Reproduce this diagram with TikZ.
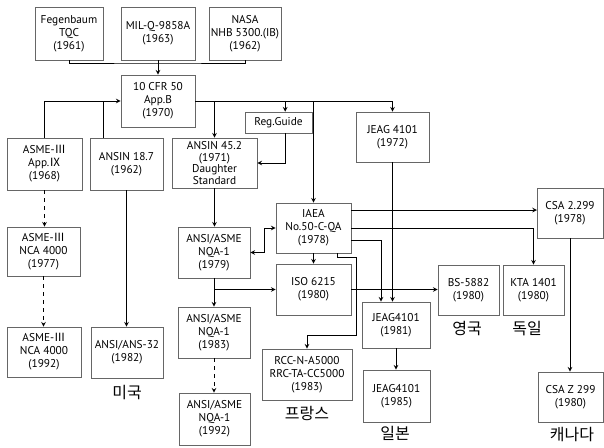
\documentclass[tikz,border=0pt]{standalone}
\usepackage{fontspec}
\setmainfont{PT Sans}
\newfontfamily\kor{Noto Sans CJK KR}
\usetikzlibrary{arrows}

\begin{document}
\begin{tikzpicture}[x=0.75pt, y=-0.75pt, >=stealth, line width=0.6pt,
    stdbox/.style={draw=black!60, line width=0.5pt, align=center, inner sep=0pt,
        font=\fontsize{8.5}{9.8}\selectfont},
    wh/.style 2 args={minimum width=#1*0.75pt, minimum height=#2*0.75pt},
    nation/.style={font=\kor\fontsize{12}{13}\selectfont}]
    \useasboundingbox (0,0) rectangle (604,447);

    % 초기 품질 기준
    \node[stdbox, wh={68}{53}] (feg) at (69,33.5) {Fegenbaum\\TQC\\(1961)};
    \node[stdbox, wh={74}{53}] (mil) at (158,33.5) {MIL-Q-9858A\\(1963)};
    \node[stdbox, wh={72}{53}] (nasa) at (245,33.5) {NASA\\NHB 5300.(IB)\\(1962)};
    \node[stdbox, wh={74}{52}] (cfr) at (158,101) {10 CFR 50\\App.B\\(1970)};

    % 미국
    \node[stdbox, wh={75}{52}] (asme68) at (44.5,164) {ASME-{\kor Ⅲ}\\App.{\kor Ⅸ}\\(1968)};
    \node[stdbox, wh={73}{52}] (ansin187) at (126.5,164) {ANSIN 18.7\\(1962)};
    \node[stdbox, wh={85}{50}, font=\fontsize{8.5}{8.6}\selectfont] (ansin452) at (214.5,163) {ANSIN 45.2\\(1971)\\Daughter\\Standard};
    \node[stdbox, wh={67}{21}] (regguide) at (278.5,122.5) {Reg.Guide};
    \node[stdbox, wh={73}{49}] (asme77) at (43.5,251.5) {ASME-{\kor Ⅲ}\\NCA 4000\\(1977)};
    \node[stdbox, wh={74}{50}] (asme92) at (44,352) {ASME-{\kor Ⅲ}\\NCA 4000\\(1992)};
    \node[stdbox, wh={72}{51}] (ans32) at (127,352.5) {ANSI/ANS-32\\(1982)};
    \node[stdbox, wh={72}{51}] (nqa79) at (214,252.5) {ANSI/ASME\\NQA-1\\(1979)};
    \node[stdbox, wh={72}{51}] (nqa83) at (214,332.5) {ANSI/ASME\\NQA-1\\(1983)};
    \node[stdbox, wh={71}{52}] (nqa92) at (214.5,419) {ANSI/ASME\\NQA-1\\(1992)};

    % 국제 기준, 각국
    \node[stdbox, wh={75}{50}] (iaea) at (313.5,228) {IAEA\\No.50-C-QA\\(1978)};
    \node[stdbox, wh={75}{51}] (iso) at (313.5,289.5) {ISO 6215\\(1980)};
    \node[stdbox, wh={90}{51}] (rcc) at (307,374.5) {RCC-N-A5000\\RRC-TA-CC5000\\(1983)};
    \node[stdbox, wh={73}{50}] (jeag72) at (392.5,137) {JEAG 4101\\(1972)};
    \node[stdbox, wh={68}{46}] (jeag81) at (396,325) {JEAG4101\\(1981)};
    \node[stdbox, wh={67}{52}] (jeag85) at (396.5,396) {JEAG4101\\(1985)};
    \node[stdbox, wh={61}{50}] (bs) at (468.5,290) {BS-5882\\(1980)};
    \node[stdbox, wh={61}{50}] (kta) at (533.5,290) {KTA 1401\\(1980)};
    \node[stdbox, wh={66}{50}] (csa78) at (570,213) {CSA 2.299\\(1978)};
    \node[stdbox, wh={65}{50}] (csaz) at (570.5,397) {CSA Z 299\\(1980)};

    % 나라 이름
    \node[nation] (usa) at (127,393) {미국};
    \node[nation] (fra) at (307,413) {프랑스};
    \node[nation] (jpn) at (395,433) {일본};
    \node[nation] (uk) at (467,329) {영국};
    \node[nation] (ger) at (527,329) {독일};
    \node[nation] (can) at (572,435) {캐나다};

    % 위 세 기준 -> 10 CFR 50
    \coordinate (topjoin) at (158,63);
    \draw (feg.south) |- (topjoin) -| (nasa.south);
    \draw[->] (mil.south) -- (cfr.north);

    % 왼쪽 두 기준 -> 10 CFR 50
    \coordinate (ansjoin) at (103,101);
    \draw[->] (asme68.north) |- (cfr.west);
    \draw (ansin187.north -| ansjoin) -- (ansjoin);

    % 10 CFR 50 -> 오른쪽
    \coordinate (rgtop) at ([xshift=5pt]regguide.north);
    \coordinate (rgbot) at ([xshift=5pt]regguide.south);
    \draw[->] (cfr.east) -| (jeag72.north);
    \draw[->] (cfr.east -| ansin452.north) -- (ansin452.north);
    \draw[->] (cfr.east -| rgtop) -- (rgtop);
    \draw[->] (cfr.east -| iaea.north) -- (iaea.north);
    \draw[->] (rgbot) |- (ansin452.east);

    % 미국 계열
    \draw[->, dashed] (asme68.south) -- (asme68.south |- asme77.north);
    \draw[->, dashed] (asme77.south) -- (asme77.south |- asme92.north);
    \draw[->] (ansin187.south) -- (ansin187.south |- ans32.north);
    \draw[->] (ansin452.south) -- (ansin452.south |- nqa79.north);
    \draw[->] (nqa79.south) -- (nqa79.south |- nqa83.north);
    \draw[->, dashed] (nqa83.south) -- (nqa83.south |- nqa92.north);
    \draw[->] (nqa79.south |- iso.west) -- (iso.west);
    \coordinate (nqajoin) at (264,228);
    \draw[<->] (nqa79.east) -| (nqajoin) -- (iaea.west);

    % IAEA -> 각국
    \coordinate (csain) at (537,210);
    \coordinate (jgin) at (381,240);
    \coordinate (rccO) at (337,0);
    \coordinate (rccA) at (356,257);
    \coordinate (rccB) at (356,335);
    \draw[->] (iaea.south) -- (iaea.south |- iso.north);
    \draw[->] (iaea.east |- csain) -- (csain);
    \draw[->] (iaea.east) -| (kta.north);
    \draw[->] (iaea.east |- jgin) -| (jgin |- jeag81.north);
    \draw[->] (iaea.south -| rccO) |- (rccA) -- (rccB) -| (rcc.north);

    % 일본, 영국, 캐나다
    \draw[->] (jeag72.south) -- (jeag72.south |- jeag81.north);
    \draw[->] (jeag81.south) -- (jeag81.south |- jeag85.north);
    \draw[->] (iso.east) -- (iso.east -| bs.west);
    \draw[->] (csa78.south) -- (csa78.south |- csaz.north);
\end{tikzpicture}
\end{document}
